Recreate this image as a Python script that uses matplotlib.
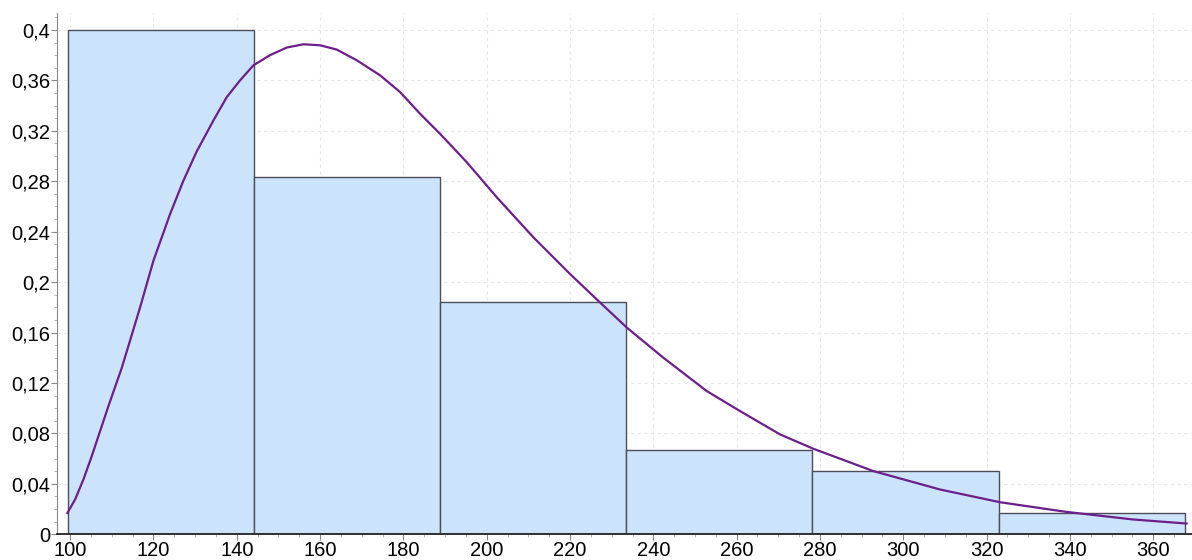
import matplotlib
matplotlib.use("Agg")
import matplotlib.pyplot as plt
from matplotlib.ticker import MultipleLocator, FuncFormatter

# bordes de las clases y frecuencias relativas
bordes = [99.4, 144.1, 188.8, 233.5, 278.2, 322.9, 367.6]
frecuencias = [0.400, 0.283, 0.184, 0.067, 0.050, 0.017]

# curva de densidad
curva_x = [99.35, 101.2, 103.2, 105.2, 107.2, 109.2, 112.4, 116.8, 120.0, 124.0,
           127.2, 130.4, 134.4, 137.6, 140.8, 144.0, 148.0, 152.0, 156.0, 160.0,
           164.0, 168.8, 174.4, 179.2, 184.0, 188.8, 195.2, 202.4, 211.2, 220.0,
           227.2, 233.6, 242.4, 252.8, 260.8, 270.4, 278.4, 292.8, 308.8, 323.2,
           339.2, 355.2, 368.0]
curva_y = [0.0169, 0.0276, 0.0435, 0.062, 0.0819, 0.1017, 0.132, 0.180, 0.217, 0.254,
           0.2805, 0.3037, 0.3282, 0.3467, 0.360, 0.3719, 0.380, 0.386, 0.3886, 0.3878,
           0.3844, 0.3759, 0.364, 0.3507, 0.3335, 0.3176, 0.2951, 0.2673, 0.2355, 0.2064,
           0.1838, 0.164, 0.140, 0.1136, 0.0977, 0.0792, 0.0678, 0.0501, 0.0355, 0.0254,
           0.0177, 0.0117, 0.0085]

plt.rcParams['font.family'] = ['Liberation Sans', 'DejaVu Sans']

fig = plt.figure(figsize=(11.92, 5.6), dpi=100)
ax = fig.add_axes([0.048, 0.046, 0.952, 0.931])

anchos = [bordes[i + 1] - bordes[i] for i in range(len(frecuencias))]
ax.bar(bordes[:-1], frecuencias, width=anchos, align='edge',
       color='#cce4fb', edgecolor='#4d4d5a', linewidth=1.0, zorder=2)
ax.plot(curva_x, curva_y, color='#6e1e8c', linewidth=1.6, zorder=3,
        solid_joinstyle='round')

ax.set_xlim(96.9, 369.3)
ax.set_ylim(0, 0.4135)

ax.xaxis.set_major_locator(MultipleLocator(20))
ax.xaxis.set_minor_locator(MultipleLocator(5))
ax.yaxis.set_major_locator(MultipleLocator(0.04))
ax.yaxis.set_minor_locator(MultipleLocator(0.01))

def coma(v, pos):
    s = f"{v:.2f}".rstrip('0').rstrip('.')
    return s.replace('.', ',')

ax.yaxis.set_major_formatter(FuncFormatter(coma))

ax.grid(True, which='major', linestyle=(0, (3, 3)), color='#e8e8e8', linewidth=0.8, zorder=0)
ax.set_axisbelow(True)

for lado in ['top', 'right']:
    ax.spines[lado].set_visible(False)
ax.spines['left'].set_color('#888888')
ax.spines['bottom'].set_color('#222222')
ax.spines['bottom'].set_linewidth(1.3)

ax.tick_params(axis='both', which='major', labelsize=14.5, length=4, color='#888888', pad=1)
ax.tick_params(axis='both', which='minor', length=2, color='#aaaaaa')

plt.savefig('out.png', dpi=100)
